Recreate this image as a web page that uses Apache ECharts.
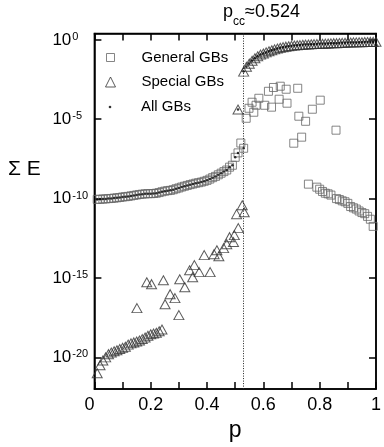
<!DOCTYPE html>
<html>
<head>
<meta charset="utf-8">
<script src="https://cdn.jsdelivr.net/npm/echarts@6/dist/echarts.min.js"></script>
<style>
  html, body { margin: 0; background: #fff; }
  #chart { width: 384px; height: 447px; }
</style>
</head>
<body>
<div id="chart"></div>
<script>
// values are [p, log10(ΣE)]
const generalBelow = [
  [0.01,-10.05],[0.02,-10.04],[0.03,-10.03],[0.04,-10.02],[0.05,-10.0],[0.06,-9.99],[0.07,-9.97],
  [0.08,-9.95],[0.09,-9.93],[0.10,-9.9],[0.11,-9.88],[0.12,-9.86],[0.13,-9.83],[0.14,-9.8],
  [0.15,-9.77],[0.16,-9.74],[0.17,-9.72],[0.18,-9.7],[0.19,-9.69],[0.20,-9.69],[0.21,-9.68],
  [0.22,-9.66],[0.23,-9.62],[0.24,-9.57],[0.25,-9.53],[0.26,-9.5],[0.27,-9.48],[0.28,-9.44],
  [0.29,-9.38],[0.30,-9.33],[0.31,-9.27],[0.32,-9.22],[0.33,-9.17],[0.34,-9.12],[0.35,-9.08],
  [0.36,-9.03],[0.37,-9.0],[0.38,-8.96],[0.39,-8.91],[0.40,-8.85],[0.41,-8.77],[0.42,-8.68],
  [0.43,-8.6],[0.44,-8.5],[0.45,-8.4],[0.46,-8.3],[0.47,-8.2],[0.48,-8.02],[0.49,-7.9],
  [0.50,-7.4],[0.51,-7.12]
];
const generalNearPc = [[0.52,-6.5],[0.53,-6.83]];
const generalAbove = [
  [0.539,-4.94],[0.549,-4.31],[0.56,-3.93],[0.566,-4.56],[0.574,-4.12],[0.584,-3.68],[0.605,-4.12],
  [0.618,-3.24],[0.629,-4.24],[0.636,-3.0],[0.656,-3.74],[0.66,-2.92],[0.681,-3.11],[0.684,-3.99],
  [0.708,-6.51],[0.722,-3.05],[0.726,-4.81],[0.736,-6.13],[0.75,-5.13],[0.774,-4.37],[0.802,-3.8],
  [0.858,-5.69]
];
const generalTail = [
  [0.76,-9.09],[0.79,-9.28],[0.80,-9.41],[0.81,-9.55],[0.82,-9.66],[0.83,-9.7],[0.84,-9.78],
  [0.86,-10.0],[0.87,-10.06],[0.88,-10.14],[0.89,-10.2],[0.90,-10.3],[0.91,-10.5],[0.92,-10.58],
  [0.93,-10.66],[0.94,-10.78],[0.95,-10.88],[0.96,-10.95],[0.97,-11.12],[0.98,-11.3],[0.99,-11.75]
];
const specialLowCurve = [
  [0.01,-21.0],[0.02,-20.5],[0.03,-20.2],[0.04,-20.0],[0.05,-19.8],[0.06,-19.7],[0.07,-19.62],
  [0.08,-19.55],[0.09,-19.47],[0.10,-19.4],[0.11,-19.33],[0.12,-19.2],[0.13,-19.12],[0.14,-19.06],
  [0.15,-19.0],[0.16,-18.94],[0.17,-18.85],[0.18,-18.75],[0.19,-18.64],[0.20,-18.55],[0.21,-18.5],
  [0.22,-18.45],[0.23,-18.36],[0.24,-18.25]
];
const specialScatter = [
  [0.151,-16.9],[0.186,-15.27],[0.203,-15.39],[0.245,-15.14],[0.251,-16.65],[0.269,-16.02],
  [0.286,-16.27],[0.30,-17.34],[0.303,-15.08],[0.321,-15.58],[0.338,-14.51],[0.349,-14.95],
  [0.355,-14.19],[0.372,-14.63],[0.39,-13.56],[0.411,-14.63],[0.425,-13.5],[0.435,-13.25],
  [0.442,-13.63],[0.459,-13.12],[0.47,-12.87],[0.48,-12.43],[0.494,-12.74],[0.497,-12.3],
  [0.505,-10.98],[0.511,-11.86],[0.525,-10.42],[0.532,-10.86]
];
const specialNearPc = [[0.51,-4.39]];
const specialHigh = [
  [0.53,-2.0],[0.54,-1.7],[0.55,-1.5],[0.56,-1.32],[0.57,-1.16],[0.58,-1.03],[0.59,-0.93],
  [0.60,-0.86],[0.61,-0.79],[0.62,-0.72],[0.63,-0.66],[0.64,-0.6],[0.65,-0.55],[0.66,-0.5],
  [0.67,-0.46],[0.68,-0.43],[0.69,-0.4],[0.70,-0.38],[0.71,-0.36],[0.72,-0.34],[0.73,-0.33],
  [0.74,-0.31],[0.75,-0.3],[0.76,-0.29],[0.77,-0.28],[0.78,-0.27],[0.79,-0.26],[0.80,-0.25],
  [0.81,-0.25],[0.82,-0.24],[0.83,-0.23],[0.84,-0.22],[0.85,-0.21],[0.86,-0.21],[0.87,-0.2],
  [0.88,-0.19],[0.89,-0.18],[0.90,-0.17],[0.91,-0.17],[0.92,-0.16],[0.93,-0.16],[0.94,-0.15],
  [0.95,-0.15],[0.96,-0.14],[0.97,-0.14],[0.98,-0.13],[0.99,-0.13],[1.00,-0.12]
];
const allNearPc = [[0.51,-4.39],[0.53,-6.83]];

const P_LINE = 0.53;              // where the dotted p_cc line is drawn
const xLabels = [0, 0.2, 0.4, 0.6, 0.8, 1];
const yTicks = [1e-20, 1e-15, 1e-10, 1e-5, 1];
const Y_MIN = 1e-22;
const Y_MAX = Math.pow(10, 0.4);

const FONT = '"Liberation Sans", Arial, Helvetica, sans-serif';
const toPts = (arr) => arr.map(([p, e]) => [p, Math.pow(10, e)]);

const generalData = toPts([...generalBelow, ...generalNearPc, ...generalAbove, ...generalTail]);
const specialData = toPts([...specialLowCurve, ...specialScatter, ...specialNearPc, ...specialHigh]);
const allData = toPts([...generalBelow, ...allNearPc, ...specialHigh]);

const chart = echarts.init(document.getElementById('chart'), null, { renderer: 'canvas' });

const axisLine = { show: true, onZero: false, lineStyle: { color: '#000', width: 1.5 } };
const tickIn = { inside: true, length: 7, lineStyle: { color: '#000', width: 1.5 } };

const legendBase = {
  orient: 'vertical',
  padding: 0,
  itemWidth: 10,
  itemHeight: 10,
  selectedMode: false,
};
const legendText = (pad) => ({
  fontFamily: FONT, fontSize: 15, color: '#000', lineHeight: 16, padding: [0, 0, 0, pad],
});

chart.setOption({
  animation: false,
  backgroundColor: '#fff',
  grid: {
    left: 94.4, right: 1.2, top: 33.5, bottom: 57.7,
    show: true, borderColor: '#000', borderWidth: 1.5, backgroundColor: 'transparent',
  },
  legend: [
    { ...legendBase, left: 106, top: 49.5, itemWidth: 8, itemHeight: 8,
      itemStyle: { borderWidth: 1, borderColor: '#666' },
      data: [{ name: 'General GBs', icon: 'rect' }], textStyle: legendText(22) },
    { ...legendBase, left: 105, top: 74,
      itemStyle: { borderWidth: 1, borderColor: '#333' },
      data: [{ name: 'Special GBs', icon: 'triangle' }], textStyle: legendText(21) },
    { ...legendBase, left: 108.7, top: 99, itemWidth: 2.6, itemHeight: 2.6,
      itemStyle: { borderWidth: 0 },
      data: [{ name: 'All GBs', icon: 'circle' }], textStyle: legendText(24.7) },
  ],
  graphic: [
    {
      type: 'text',
      left: 223,
      top: 3,
      style: {
        text: '{p|p}{s|cc}{p|≈0.524}',
        rich: {
          p: { fontFamily: FONT, fontSize: 18, lineHeight: 18, verticalAlign: 'top', fill: '#000' },
          s: { fontFamily: FONT, fontSize: 12, lineHeight: 12, verticalAlign: 'top', padding: [13, 0, 0, 0], fill: '#000' },
        },
      },
    },
    {
      type: 'text',
      left: 8,
      top: 159,
      style: { text: 'Σ E', font: '21px ' + FONT, fill: '#000' },
    },
  ],
  xAxis: [
    {
      type: 'value',
      min: 0,
      max: 1,
      interval: 0.1,
      name: 'p',
      nameLocation: 'middle',
      nameGap: 27,
      nameTextStyle: { fontFamily: FONT, fontSize: 23, color: '#000' },
      axisLine,
      axisTick: tickIn,
      splitLine: { show: false },
      axisLabel: {
        customValues: xLabels,
        margin: 7,
        fontFamily: FONT,
        fontSize: 18,
        color: '#000',
        formatter: (v) => (v === 0 ? '{z|0}' : String(+v.toFixed(1))),
        rich: { z: { fontFamily: FONT, fontSize: 18, color: '#000', padding: [0, 10, 0, 0] } },
      },
    },
    {
      type: 'value',
      position: 'top',
      min: 0,
      max: 1,
      interval: 0.1,
      axisLine,
      axisTick: tickIn,
      axisLabel: { show: false },
      splitLine: { show: false },
    },
  ],
  yAxis: [
    {
      type: 'log',
      min: Y_MIN,
      max: Y_MAX,
      axisLine,
      axisTick: { ...tickIn, customValues: yTicks },
      minorTick: { show: false },
      splitLine: { show: false },
      axisLabel: {
        customValues: yTicks,
        align: 'left',
        margin: 42,
        formatter: (v) => '{b|10}{s|' + Math.round(Math.log10(v)) + '}',
        rich: {
          b: { fontFamily: FONT, fontSize: 17, lineHeight: 17, verticalAlign: 'bottom', color: '#000' },
          s: { fontFamily: FONT, fontSize: 11, lineHeight: 11, verticalAlign: 'top', padding: [0, 0, 13, 1], color: '#000' },
        },
      },
    },
    {
      type: 'log',
      position: 'right',
      min: Y_MIN,
      max: Y_MAX,
      axisLine,
      axisTick: { ...tickIn, customValues: yTicks },
      axisLabel: { show: false },
      splitLine: { show: false },
    },
  ],
  series: [
    {
      name: 'General GBs',
      type: 'scatter',
      symbol: 'rect',
      symbolSize: 8,
      silent: true,
      itemStyle: { color: 'rgba(0,0,0,0)', borderColor: '#666', borderWidth: 1 },
      data: generalData,
      markLine: {
        silent: true,
        symbol: 'none',
        label: { show: false },
        lineStyle: { color: '#222', type: [1, 1.5], width: 1 },
        data: [{ xAxis: P_LINE }],
      },
    },
    {
      name: 'Special GBs',
      type: 'scatter',
      symbol: 'triangle',
      symbolSize: [10, 9],
      silent: true,
      itemStyle: { color: 'rgba(0,0,0,0)', borderColor: '#333', borderWidth: 1 },
      data: specialData,
    },
    {
      name: 'All GBs',
      type: 'scatter',
      symbol: 'circle',
      symbolSize: 2.5,
      silent: true,
      itemStyle: { color: '#000' },
      data: allData,
    },
  ],
});
</script>
</body>
</html>
